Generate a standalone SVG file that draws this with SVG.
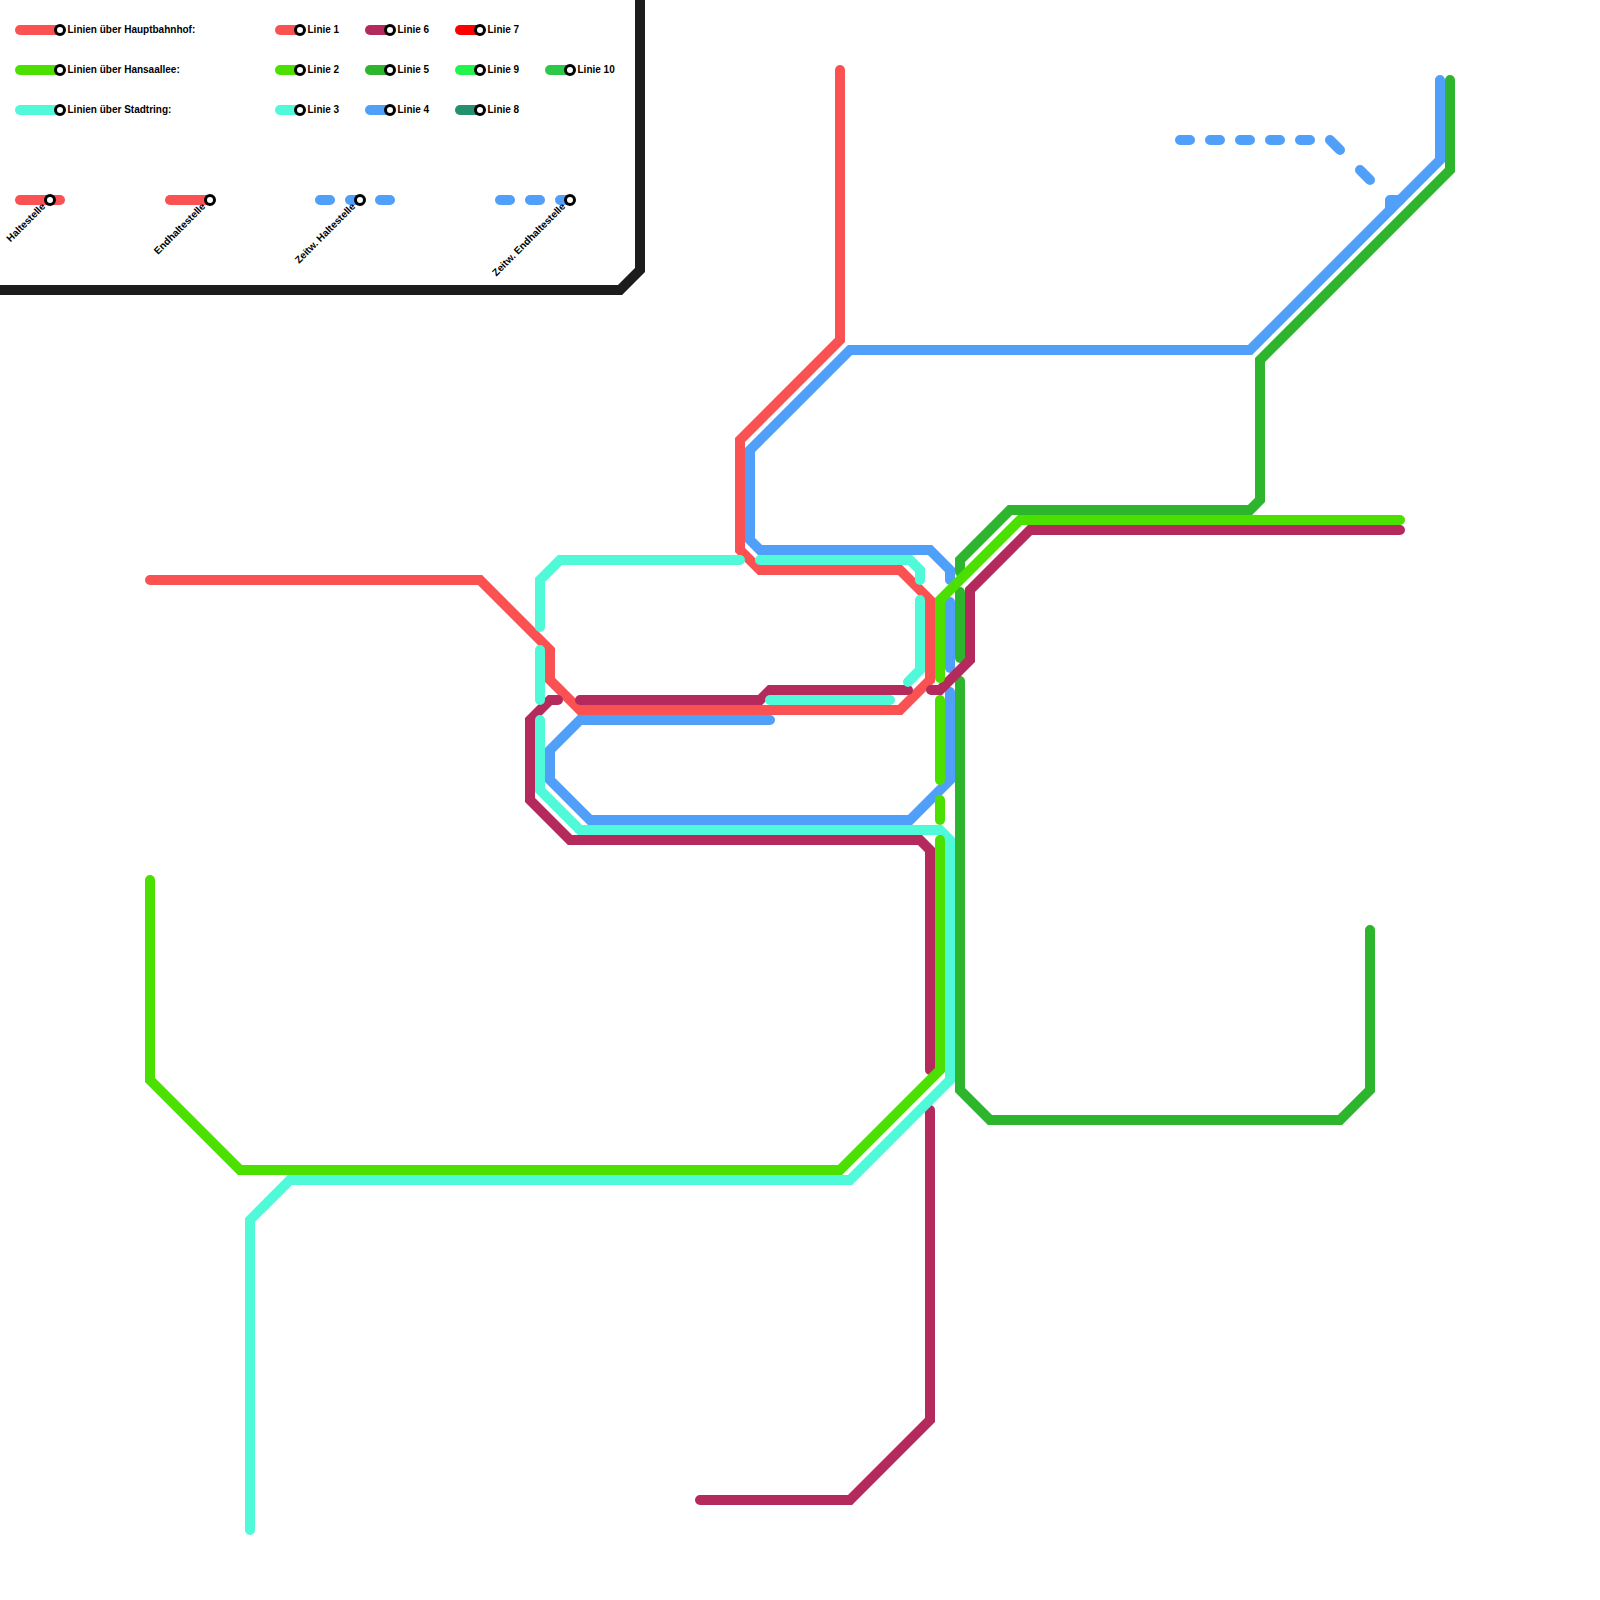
<svg xmlns="http://www.w3.org/2000/svg" width="1600" height="1600" viewBox="0 0 1600 1600">
<style>
.l{fill:none;stroke-width:10;stroke-linecap:round;stroke-linejoin:miter}
.red{stroke:#fa5252}.grn{stroke:#4ce000}.teal{stroke:#50f9d8}.blue{stroke:#50a0fa}.dgrn{stroke:#2db52d}.mar{stroke:#b42a5c}
.s{fill:#fff;stroke:#000;stroke-width:3}
text{font-family:"Liberation Sans",Arial,sans-serif;font-size:10px;font-weight:bold;fill:#000}
</style>
<rect width="1600" height="1600" fill="#fff"/>
<g id="connectors">
<path class="l dgrn" d="M1450 80V170L1260 360V500L1250 510H1010L960 560V572"/>
<path class="l dgrn" d="M960 592V658"/>
<path class="l dgrn" d="M960 681V1090L990 1120H1340L1370 1090V930"/>
<path class="l blue" d="M1440 80V160L1250 350H850L750 450V540L760 550H930L950 570V580"/>
<path class="l blue" d="M950 602V668"/>
<path class="l blue" d="M950 692V780L910 820H590L550 780V750L580 720H770"/>
<path class="l blue" d="M1180 140H1190M1210 140H1220M1240 140H1250M1270 140H1280M1300 140H1310M1330 140L1340 150M1360 170L1370 180M1390 200H1400M1390 200V210"/>
<path class="l red" d="M840 70V340L740 440V550L760 570H900L930 600V680L900 710H580L550 680V650L480 580H150"/>
<path class="l mar" d="M700 1500H850L930 1420V1110"/>
<path class="l mar" d="M930 1070V850L920 840H570L530 800V720L550 700H558"/>
<path class="l mar" d="M580 700H760L770 690H908"/>
<path class="l mar" d="M931 690H940L970 660V590L1030 530H1400"/>
<path class="l teal" d="M250 1530V1220L290 1180H850L950 1080V840L940 830H580L540 790V720"/>
<path class="l teal" d="M540 650V700"/>
<path class="l teal" d="M540 627V580L560 560H740"/>
<path class="l teal" d="M760 560H910L920 570V580"/>
<path class="l teal" d="M920 600V670L908 682"/>
<path class="l teal" d="M770 700H890"/>
<path class="l grn" d="M150 880V1080L240 1170H840L940 1070V840"/>
<path class="l grn" d="M940 800V820"/>
<path class="l grn" d="M940 700V780"/>
<path class="l grn" d="M940 678V600L1020 520H1400"/>
<path class="l" stroke="#1c1c1c" style="stroke-linecap:butt" d="M640 0V270L620 290H0"/>
</g>
<g id="legend-lines">
<path class="l red" d="M20 30H60"/><path class="l grn" d="M20 70H60"/><path class="l teal" d="M20 110H60"/>
<path class="l red" d="M280 30H300"/><path class="l grn" d="M280 70H300"/><path class="l teal" d="M280 110H300"/>
<path class="l mar" d="M370 30H390"/><path class="l dgrn" d="M370 70H390"/><path class="l blue" d="M370 110H390"/>
<path class="l" stroke="#ff0000" d="M460 30H480"/><path class="l" stroke="#22f44c" d="M460 70H480"/><path class="l" stroke="#249070" d="M460 110H480"/>
<path class="l" stroke="#2bc84a" d="M550 70H570"/>
<path class="l red" d="M20 200H60"/><path class="l red" d="M170 200H210"/>
<path class="l blue" d="M320 200H330M350 200H360M380 200H390"/>
<path class="l blue" d="M500 200H510M530 200H540M560 200H570"/>
</g>
<g id="n1"><circle class="s" cx="60" cy="30" r="4.5"/><text x="67.5" y="33">Linien über Hauptbahnhof:</text></g>
<g id="n2"><circle class="s" cx="60" cy="70" r="4.5"/><text x="67.5" y="73">Linien über Hansaallee:</text></g>
<g id="n3"><circle class="s" cx="60" cy="110" r="4.5"/><text x="67.5" y="113">Linien über Stadtring:</text></g>
<g id="l1"><circle class="s" cx="300" cy="30" r="4.5"/><text x="307.5" y="33">Linie 1</text></g>
<g id="l2"><circle class="s" cx="300" cy="70" r="4.5"/><text x="307.5" y="73">Linie 2</text></g>
<g id="l3"><circle class="s" cx="300" cy="110" r="4.5"/><text x="307.5" y="113">Linie 3</text></g>
<g id="l6"><circle class="s" cx="390" cy="30" r="4.5"/><text x="397.5" y="33">Linie 6</text></g>
<g id="l5"><circle class="s" cx="390" cy="70" r="4.5"/><text x="397.5" y="73">Linie 5</text></g>
<g id="l4"><circle class="s" cx="390" cy="110" r="4.5"/><text x="397.5" y="113">Linie 4</text></g>
<g id="l7"><circle class="s" cx="480" cy="30" r="4.5"/><text x="487.5" y="33">Linie 7</text></g>
<g id="l9"><circle class="s" cx="480" cy="70" r="4.5"/><text x="487.5" y="73">Linie 9</text></g>
<g id="l8"><circle class="s" cx="480" cy="110" r="4.5"/><text x="487.5" y="113">Linie 8</text></g>
<g id="l10"><circle class="s" cx="570" cy="70" r="4.5"/><text x="577.5" y="73">Linie 10</text></g>
<g id="k1"><circle class="s" cx="50" cy="200" r="4.5"/><text text-anchor="end" transform="translate(46 207) rotate(-45)">Haltestelle</text></g>
<g id="k2"><circle class="s" cx="210" cy="200" r="4.5"/><text text-anchor="end" transform="translate(206 207) rotate(-45)">Endhaltestelle</text></g>
<g id="k3"><circle class="s" cx="360" cy="200" r="4.5"/><text text-anchor="end" transform="translate(356 207) rotate(-45)">Zeitw. Haltestelle</text></g>
<g id="k4"><circle class="s" cx="570" cy="200" r="4.5"/><text text-anchor="end" transform="translate(566 207) rotate(-45)">Zeitw. Endhaltestelle</text></g>
</svg>
